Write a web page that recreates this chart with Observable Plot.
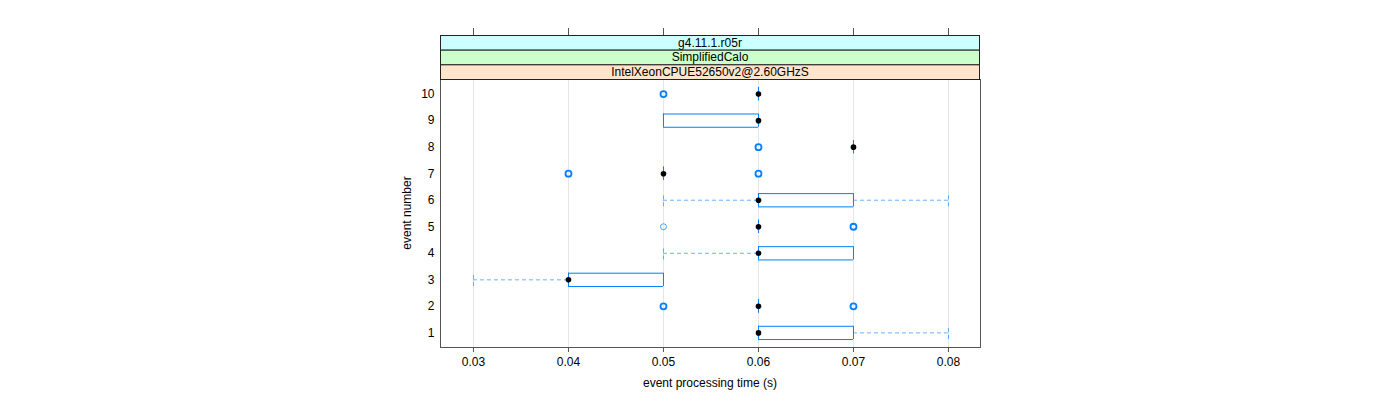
<!DOCTYPE html>
<html>
<head>
<meta charset="utf-8">
<script src="https://cdn.jsdelivr.net/npm/d3@7"></script>
<script src="https://cdn.jsdelivr.net/npm/@observablehq/plot@0.6"></script>
<style>
  html, body { margin: 0; padding: 0; background: #fff; }
  svg { display: block; }
</style>
</head>
<body>
<div id="chart"></div>
<script>
// ---- data ----
const events     = [1, 2, 3, 4, 5, 6, 7, 8, 9, 10];
const whiskerLo  = [0.06, 0.06, 0.03, 0.05, 0.06, 0.05, 0.05, 0.07, 0.05, 0.06];
const q1         = [0.06, 0.06, 0.04, 0.06, 0.06, 0.06, 0.05, 0.07, 0.05, 0.06];
const medians    = [0.06, 0.06, 0.04, 0.06, 0.06, 0.06, 0.05, 0.07, 0.06, 0.06];
const q3         = [0.07, 0.06, 0.05, 0.07, 0.06, 0.07, 0.05, 0.07, 0.06, 0.06];
const whiskerHi  = [0.08, 0.06, 0.05, 0.07, 0.06, 0.08, 0.05, 0.07, 0.06, 0.06];

const outlierEvent = [2, 2, 5, 5, 7, 7, 8, 10];
const outlierValue = [0.05, 0.07, 0.05, 0.07, 0.04, 0.06, 0.06, 0.05];
const outlierCount = [2, 3, 1, 2, 2, 2, 2, 2];

const xTicks = [0.03, 0.04, 0.05, 0.06, 0.07, 0.08];
const stripLabels = ["g4.11.1.r05r", "SimplifiedCalo", "IntelXeonCPUE52650v2@2.60GHzS"];
const stripFills  = ["#ccffff", "#ccffcc", "#ffe5cc"];
const xLabel = "event processing time (s)";
const yLabel = "event number";

// ---- derived tables ----
const rows = events.map((e, i) => ({
  event: e, lo: whiskerLo[i], q1: q1[i], med: medians[i], q3: q3[i], hi: whiskerHi[i]
}));
const outliers = outlierEvent.map((e, i) => ({event: e, value: outlierValue[i], n: outlierCount[i]}));

const BLUE = "#0080ff";
const HALF = 0.25;
const W = 1400, H = 400;
const mL = 440, mR = 420, mT = 79, mB = 53;

const plot = Plot.plot({
  width: W,
  height: H,
  marginLeft: mL,
  marginRight: mR,
  marginTop: mT,
  marginBottom: mB,
  style: {fontFamily: "'Liberation Sans', Arial, sans-serif", fontSize: "12px", color: "#000", background: "#fff"},
  x: {domain: [0.02653, 0.08337]},
  y: {domain: [0.45, 10.55]},
  marks: [
    Plot.ruleX(xTicks, {x: d => d, stroke: "#e6e6e6", strokeWidth: 1}),
    // whiskers
    Plot.ruleY(rows.filter(d => d.lo < d.q1), {y: "event", x1: "lo", x2: "q1", stroke: BLUE, strokeOpacity: 0.6, strokeDasharray: "4,3"}),
    Plot.ruleY(rows.filter(d => d.hi > d.q3), {y: "event", x1: "q3", x2: "hi", stroke: BLUE, strokeOpacity: 0.6, strokeDasharray: "4,3"}),
    Plot.ruleX(rows.filter(d => d.lo < d.q1), {x: "lo", y1: d => d.event - HALF, y2: d => d.event + HALF, stroke: BLUE, strokeOpacity: 0.6, strokeDasharray: "4,3"}),
    Plot.ruleX(rows.filter(d => d.hi > d.q3), {x: "hi", y1: d => d.event - HALF, y2: d => d.event + HALF, stroke: BLUE, strokeOpacity: 0.6, strokeDasharray: "4,3"}),
    // boxes
    Plot.ruleY(rows.filter(d => d.q3 > d.q1), {y: d => d.event + HALF, x1: "q1", x2: "q3", stroke: BLUE}),
    Plot.ruleY(rows.filter(d => d.q3 > d.q1), {y: d => d.event - HALF, x1: "q1", x2: "q3", stroke: BLUE}),
    Plot.ruleX(rows, {x: "q1", y1: d => d.event - HALF, y2: d => d.event + HALF, stroke: BLUE}),
    Plot.ruleX(rows, {x: "q3", y1: d => d.event - HALF, y2: d => d.event + HALF, stroke: BLUE}),
    // outliers
    Plot.dot(outliers.filter(d => d.n === 1), {x: "value", y: "event", r: 3, stroke: BLUE, strokeOpacity: 0.7, strokeWidth: 1, fill: "none"}),
    Plot.dot(outliers.filter(d => d.n > 1), {x: "value", y: "event", r: 3, stroke: BLUE, strokeWidth: 1.8, fill: "none"}),
    // medians
    Plot.dot(rows, {x: "med", y: "event", r: 2.8, fill: "black", stroke: "none"}),
    Plot.frame({stroke: "#555"}),
    Plot.axisX(xTicks, {tickFormat: d3.format(".2f"), tickSize: 5, tickPadding: 5, label: null, stroke: "#555"}),
    Plot.axisY(events, {tickSize: 0, tickPadding: 6, label: null})
  ]
});

// strips, top ticks and axis titles positioned from the plot's scales
const svg = d3.select(plot);
const xs = plot.scale("x");
const x0 = mL, x1 = W - mR;
const stripTop = 35;
const stripH = (mT - stripTop) / stripLabels.length;
const g = svg.append("g");
stripLabels.forEach((lab, i) => {
  const y = stripTop + i * stripH;
  g.append("rect").attr("x", x0 + 0.5).attr("y", y + 0.5).attr("width", x1 - x0 - 1).attr("height", stripH)
    .attr("fill", stripFills[i]).attr("stroke", "#222");
  g.append("text").attr("x", (x0 + x1) / 2).attr("y", y + stripH / 2).attr("dy", "0.35em")
    .attr("text-anchor", "middle").attr("font-size", 12).text(lab);
});
xTicks.forEach(t => {
  const px = Math.round(xs.apply(t)) + 0.5;
  g.append("line").attr("x1", px).attr("x2", px).attr("y1", 28).attr("y2", stripTop)
    .attr("stroke", "#555");
});
svg.append("text").attr("x", (x0 + x1) / 2).attr("y", 387).attr("text-anchor", "middle")
  .attr("font-size", 12).text(xLabel);
svg.append("text").attr("transform", `translate(411,${(mT + H - mB) / 2}) rotate(-90)`)
  .attr("text-anchor", "middle").attr("font-size", 12).text(yLabel);

document.getElementById("chart").appendChild(plot);
</script>
</body>
</html>
